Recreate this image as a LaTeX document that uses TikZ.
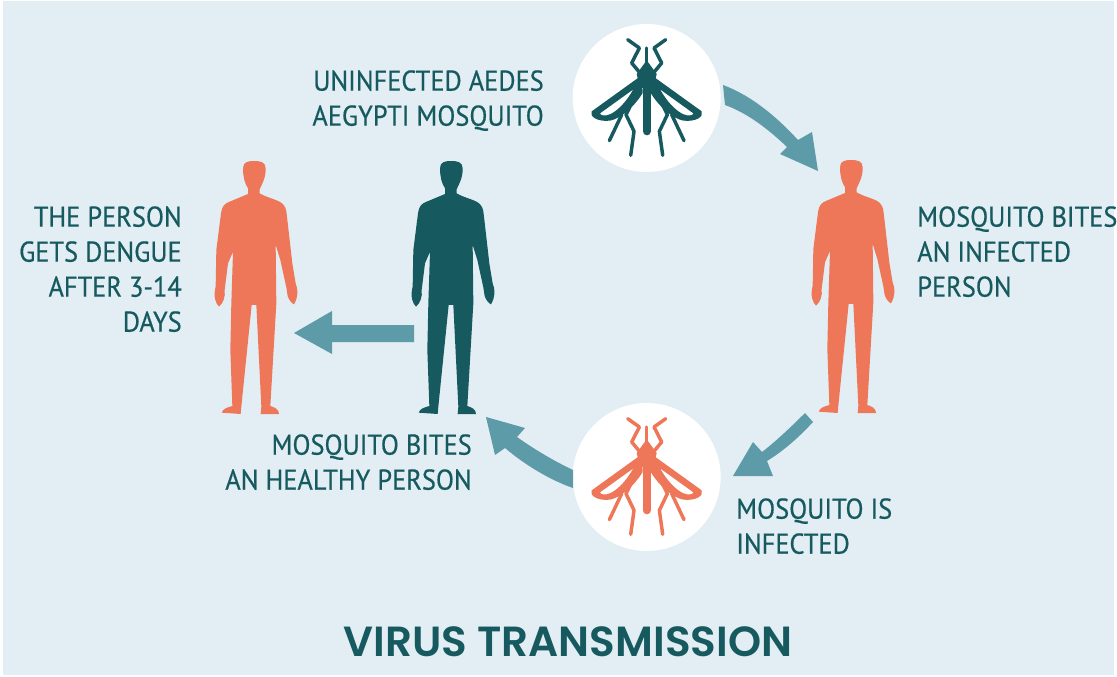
\documentclass[tikz,border=0pt]{standalone}
\usepackage{fontspec}
\setmainfont{PT Sans}
\newfontfamily\lab[FakeStretch=0.92,FakeBold=0.5]{PT Sans}
\newfontfamily\ttl{Poppins SemiBold}
\definecolor{bgc}{HTML}{E2EEF3}
\definecolor{dk}{HTML}{165A60}
\definecolor{org}{HTML}{EE7759}
\definecolor{arr}{HTML}{5E9BA8}
\tikzset{
 lbl/.style={text=dk,font=\lab\fontsize{21.5}{26.25}\selectfont,inner sep=0pt},
 person/.pic={
  \begin{scope}[x=0.25pt,y=-0.25pt,shift={(-45.75pt,8.25pt)}]
  \fill[pic actions] (150,55) .. controls (150,36) and (165,33) .. (183,33) .. controls (202,33) and (218,36) .. (218,55)
   .. controls (219,85) and (205,105) .. (200,118) -- (200,130) .. controls (225,145) and (262,150) .. (272,165) .. controls (280,175) and (280,185) .. (282,200)
   -- (298,340) -- (308,400) .. controls (316,420) and (316,440) .. (303,463) .. controls (296,460) and (288,450) .. (284,438) -- (280,412) -- (262,330) -- (248,285)
   -- (250,460) -- (232,768) .. controls (245,772) and (258,778) .. (258,792) -- (203,792) -- (205,770) -- (190,465) -- (176,465) -- (145,770) -- (143,792) -- (86,788) .. controls (90,775) and (105,772) .. (118,768)
   -- (112,600) -- (115,460) -- (120,305) -- (105,340) -- (95,420) .. controls (98,440) and (90,460) .. (78,470) .. controls (68,460) and (60,440) .. (68,410) -- (70,300) -- (84,190) .. controls (86,170) and (95,160) .. (110,155)  -- (165,132) -- (165,115) .. controls (155,100) and (150,80) .. (150,55) -- cycle;
  \end{scope}
 },
 mosq/.pic={
  \begin{scope}[x=0.25pt,y=-0.25pt,line cap=round,line join=round]
   \draw[pic actions,line width=6pt] (0,-85) -- (0,100);
   \draw[pic actions,line width=2.6pt] (0,-150) -- (0,-100);
   \fill[pic actions] (0,-113) -- (30,-72) -- (20,-30) -- (-20,-30) -- (-30,-72) -- cycle;
   \foreach \s in {-1,1}{
    \begin{scope}[xscale=\s]
     \draw[pic actions,line width=2.6pt] (57,-175) -- (22,-150) -- (45,-105) -- (20,-75);
     \fill[pic actions,even odd rule] (15,-68) -- (165,40) .. controls (172,55) and (150,72) .. (110,68) .. controls (80,62) and (40,30) .. (12,-15) -- cycle
       (40,-26) -- (140,46) .. controls (140,52) and (125,56) .. (108,48) .. controls (85,36) and (60,10) .. (40,-26) -- cycle;
     \draw[pic actions,line width=2.6pt] (35,-5) -- (62,50) -- (38,100) -- (48,172);
     \draw[pic actions,line width=2.6pt] (75,50) -- (112,128);
    \end{scope}
   }
  \end{scope}
 }
}
\begin{document}
\begin{tikzpicture}[x=0.75pt,y=-0.75pt]
\useasboundingbox (0,0) rectangle (1117,677);
\fill[white] (0,0) rectangle (1117,677);
\fill[bgc] (3,1) rectangle (1114,675);
\node[circle,fill=white,minimum size=111pt,inner sep=0pt] (c1) at (646.7,98) {};
\node[circle,fill=white,minimum size=111pt,inner sep=0pt] (c2) at (646.7,477) {};
\pic[dk] at (646.7,98) {mosq};
\pic[org] at (646.7,477) {mosq};
\pic[org] at (254,161) {person};
\pic[dk] at (451,161) {person};
\pic[org] at (851,160) {person};
% arrows
\fill[arr] (723,85) .. controls (750,95) and (775,115) .. (798,140) -- (812,132) -- (818,171) -- (780,154) -- (787,147) .. controls (767,128) and (747,113) .. (725,105) -- cycle;
\fill[arr] (805,413) .. controls (790,428) and (775,442) .. (762,452) -- (753,442) -- (733,476) -- (773,476) -- (767,461) .. controls (785,450) and (800,436) .. (813,422) -- cycle;
\fill[arr] (573,470) .. controls (552,460) and (534,449) .. (517,437) -- (525,428) -- (486,417) -- (495,455) -- (505,448) .. controls (525,465) and (550,480) .. (573,488) -- cycle;
\fill[arr] (414,325) -- (332,325) -- (332,311) -- (294,333) -- (332,354) -- (332,342) -- (414,342) -- cycle;
% labels
\node[lbl,align=right,anchor=north east] (t1) at (544,70) {UNINFECTED AEDES\\AEGYPTI MOSQUITO};
\node[lbl,align=right,anchor=north east] (t2) at (182,206) {THE PERSON\\GETS DENGUE\\AFTER 3-14\\DAYS};
\node[lbl,align=left,anchor=north west] (t3) at (917,206) {MOSQUITO BITES\\AN INFECTED\\PERSON};
\node[lbl,align=right,anchor=north east] (t4) at (472,434) {MOSQUITO BITES\\AN HEALTHY PERSON};
\node[lbl,align=left,anchor=north west] (t5) at (736,498) {MOSQUITO IS\\INFECTED};
\node[text=dk,font=\ttl\fontsize{31.6}{36}\selectfont,inner sep=0pt] (title) at (568,642) {VIRUS TRANSMISSION};
\end{tikzpicture}
\end{document}
